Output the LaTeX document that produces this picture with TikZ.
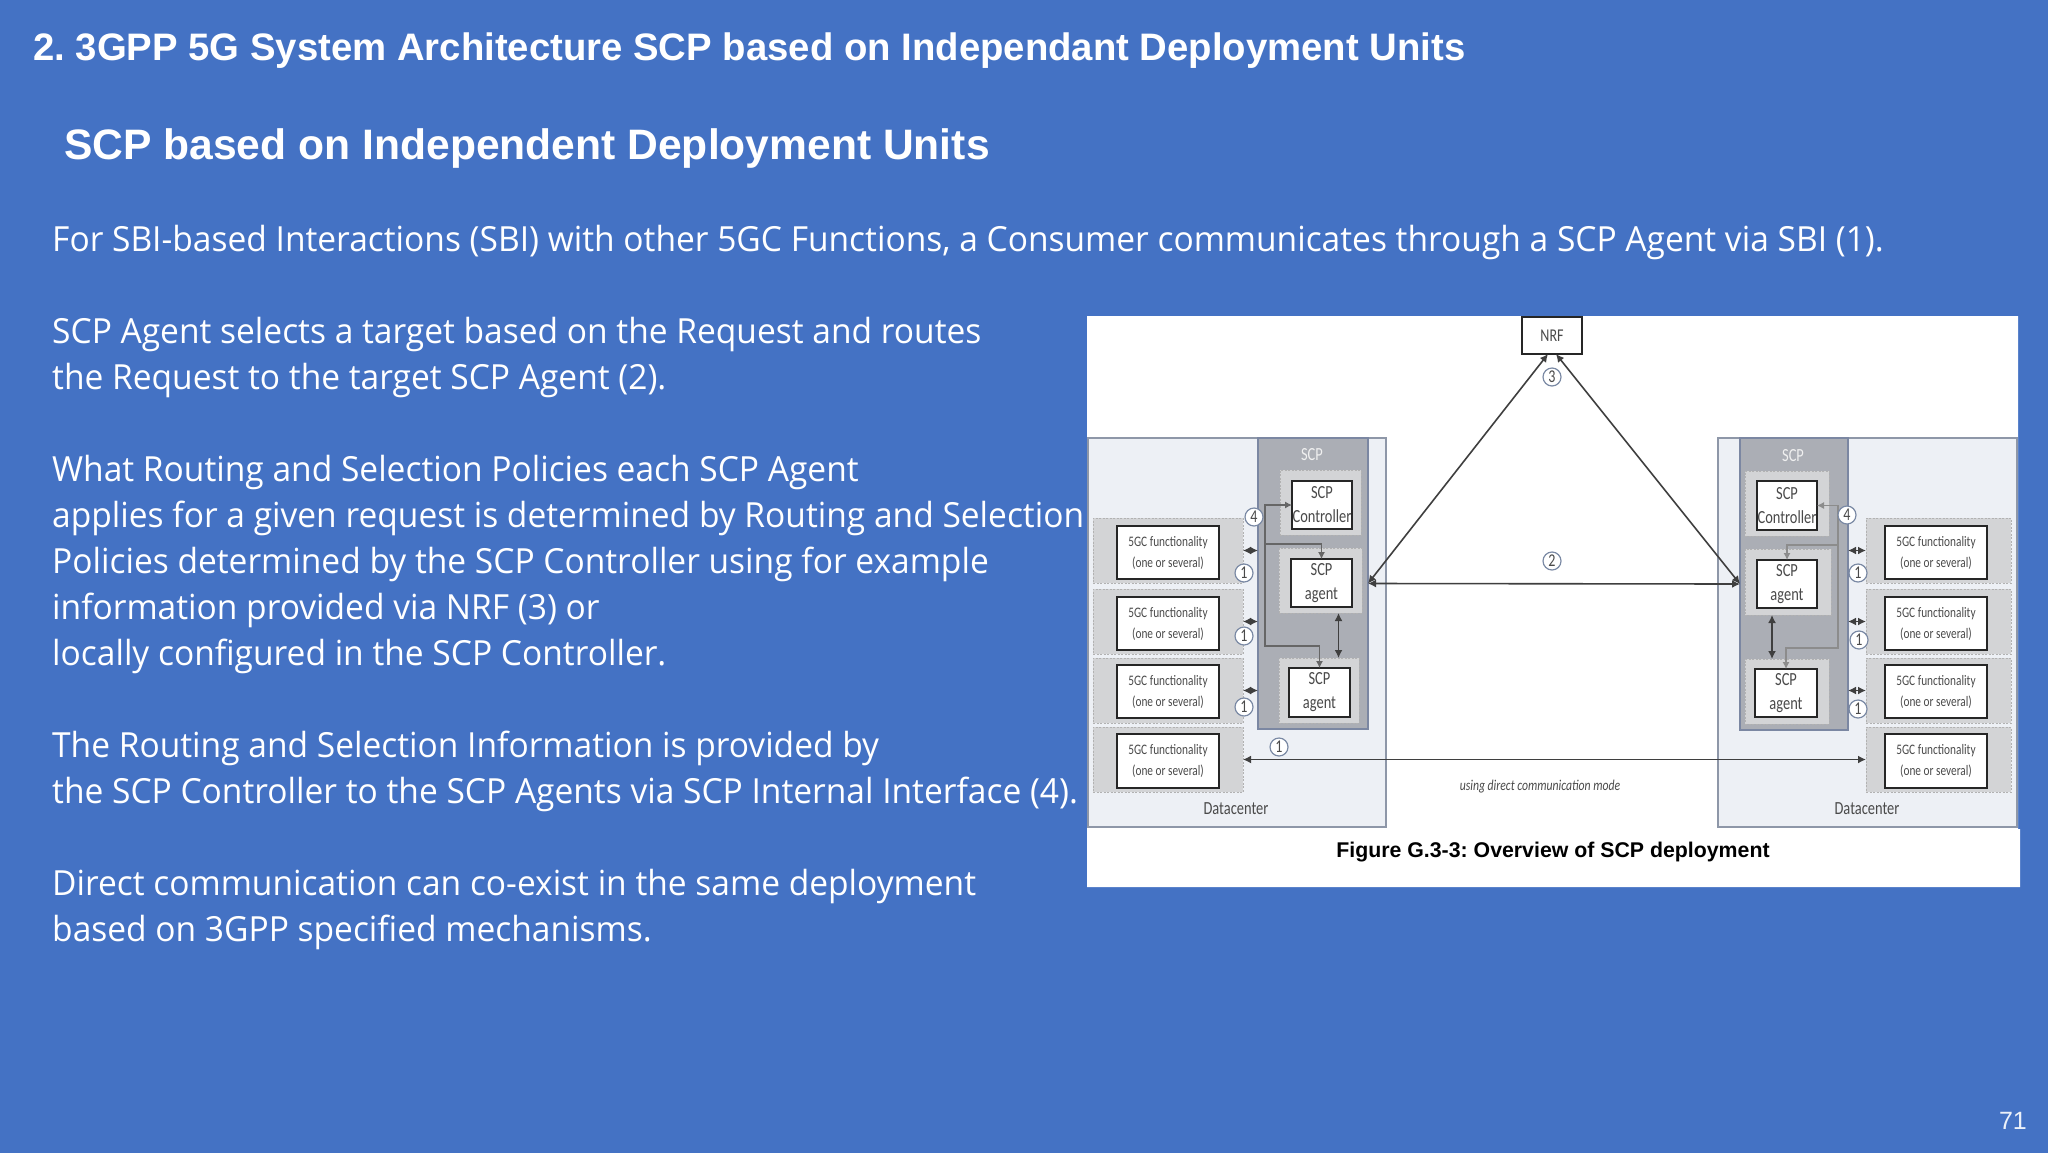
\documentclass[tikz,border=0pt]{standalone}
\usepackage{fontspec}
\usetikzlibrary{arrows.meta,calc}
\setmainfont[FakeStretch=0.969]{Open Sans}
\newfontfamily\headf{Liberation Sans}
\newfontfamily\figf[FakeStretch=0.78]{Carlito}
\frenchspacing
\definecolor{slidebg}{HTML}{4472C4}
\definecolor{dcfill}{HTML}{EDF0F5}
\definecolor{dcline}{HTML}{8E97A8}
\definecolor{scpfill}{HTML}{ABAEB5}
\definecolor{scpline}{HTML}{7B87A2}
\definecolor{outerfill}{HTML}{D3D4D6}
\definecolor{figtext}{HTML}{4A4A4A}
\definecolor{wire}{HTML}{3F3F3F}
\definecolor{ringline}{HTML}{7A89A4}
\newcommand{\rnode}[7]{%
  \pgfmathsetmacro\cxx{(#2+#4)/2}\pgfmathsetmacro\cyy{(#3+#5)/2}%
  \pgfmathsetmacro\wdd{#4-#2}\pgfmathsetmacro\htt{#5-#3}%
  \node[#6,minimum width=\wdd pt,minimum height=\htt pt,inner sep=0pt,outer sep=0pt] (#1) at (\cxx,\cyy) {#7};}
\tikzset{
  x=1pt,y=-1pt,
  title/.style={anchor=base west,text=white,font=\headf\bfseries\fontsize{38.3}{40}\selectfont,inner sep=0pt},
  subtitle/.style={anchor=base west,text=white,font=\headf\bfseries\fontsize{42.6}{46}\selectfont,inner sep=0pt},
  body/.style={anchor=base west,text=white,font=\fontsize{34.6}{40}\selectfont,inner sep=0pt},
  dc/.style={draw=dcline,fill=dcfill,line width=1.6pt},
  scp/.style={draw=scpline,fill=scpfill,line width=1.8pt},
  outer/.style={draw=gray!60,fill=outerfill,line width=0.8pt,dash pattern=on 2pt off 1.5pt},
  inner/.style={draw=black!85,fill=white,line width=2.4pt,text=figtext,align=center,font=\figf\fontsize{18.5}{24}\selectfont},
  fg/.style={draw=black!85,fill=white,line width=2.4pt,text=figtext,align=center,font=\figf\fontsize{14.5}{21}\selectfont},
  ring/.style={circle,draw=ringline,fill=white,line width=1.2pt,inner sep=0pt,minimum size=18pt,text=figtext,font=\figf\fontsize{18}{18}\selectfont},
  figlabel/.style={text=figtext,inner sep=0pt,font=\figf\fontsize{18.5}{20}\selectfont},
  scplabel/.style={text=white!88!gray,inner sep=0pt,font=\figf\fontsize{18.5}{20}\selectfont},
  wirel/.style={draw=wire,line width=1.6pt,{Latex[length=8pt,width=8pt]}-{Latex[length=8pt,width=8pt]}},
  bus/.style={draw=black!60,line width=1.1pt,{Latex[length=7pt,width=7pt]}-{Latex[length=7pt,width=7pt]}},
  busone/.style={draw=black!60,line width=1.1pt,-{Latex[length=7pt,width=7pt]}},
}
\begin{document}
\begin{tikzpicture}
\path[use as bounding box] (0,0) rectangle (2048,1152);
\fill[slidebg] (-6,-6) rectangle (2054,1158);
% texts
\node[title] (t1) at (33,60) {2. 3GPP 5G System Architecture SCP based on Independant Deployment Units};
\node[subtitle] (t2) at (64,159) {SCP based on Independent Deployment Units};
\node[body] (b1) at (52,251) {For SBI-based Interactions (SBI) with other 5GC Functions, a Consumer communicates through a SCP Agent via SBI (1).};
\node[body] (b2) at (52,343) {SCP Agent selects a target based on the Request and routes};
\node[body] (b3) at (52,389) {the Request to the target SCP Agent (2).};
\node[body] (b4) at (52,481) {What Routing and Selection Policies each SCP Agent};
\node[body] (b5) at (52,527) {applies for a given request is determined by Routing and Selection};
\node[body] (b6) at (52,573) {Policies determined by the SCP Controller using for example};
\node[body] (b7) at (52,619) {information provided via NRF (3) or};
\node[body] (b8) at (52,665) {locally configured in the SCP Controller.};
\node[body] (b9) at (52,757) {The Routing and Selection Information is provided by};
\node[body] (b10) at (52,803) {the SCP Controller to the SCP Agents via SCP Internal Interface (4).};
\node[body] (b11) at (52,895) {Direct communication can co-exist in the same deployment};
\node[body] (b12) at (52,941) {based on 3GPP specified mechanisms.};
\node[anchor=base east,text=white!90!slidebg,inner sep=0pt,font=\headf\fontsize{25}{28}\selectfont] (pg) at (2027,1129) {71};
% figure background
\fill[white] (1087,316) -- (2018,316) -- (2018,829) -- (2020,829) -- (2020,887) -- (1087,887) -- cycle;
% datacenters
\rnode{dcL}{1088}{438}{1386}{827}{dc}{}
\rnode{dcR}{1718}{438}{2017}{827}{dc}{}
% SCP
\rnode{scpL}{1258}{438}{1368}{729}{scp}{}
\rnode{scpR}{1740}{438}{1848}{730}{scp}{}
% SCP dashed
\rnode{coL}{1280}{470}{1361}{535}{outer}{}
\rnode{aoLa}{1279}{548}{1362}{613}{outer}{}
\rnode{aoLb}{1279}{658}{1359}{723}{outer}{}
\rnode{coR}{1745}{471}{1829}{536}{outer}{}
\rnode{aoRa}{1745}{549}{1831}{615}{outer}{}
\rnode{aoRb}{1745}{659}{1829}{724}{outer}{}
% 5GC dashed
\rnode{goLa}{1093}{518}{1243}{583}{outer}{}
\rnode{goLb}{1093}{589}{1243}{654}{outer}{}
\rnode{goLc}{1093}{658}{1243}{723}{outer}{}
\rnode{goLd}{1093}{727}{1243}{792}{outer}{}
\rnode{goRa}{1866}{518}{2011}{583}{outer}{}
\rnode{goRb}{1866}{589}{2011}{654}{outer}{}
\rnode{goRc}{1866}{658}{2011}{723}{outer}{}
\rnode{goRd}{1866}{727}{2011}{792}{outer}{}
% boxes
\rnode{ctlL}{1292}{481}{1352}{529}{inner}{SCP\\Controller}
\rnode{agLa}{1291}{559}{1352}{607}{inner}{SCP\\agent}
\rnode{agLb}{1289}{668}{1350}{717}{inner}{SCP\\agent}
\rnode{ctlR}{1757}{481}{1817}{530}{inner}{SCP\\Controller}
\rnode{agRa}{1757}{560}{1817}{608}{inner}{SCP\\agent}
\rnode{agRb}{1755}{669}{1817}{717}{inner}{SCP\\agent}
\rnode{gLa}{1117}{526}{1219}{579}{fg}{5GC functionality\\(one or several)}
\rnode{gLb}{1117}{597}{1219}{650}{fg}{5GC functionality\\(one or several)}
\rnode{gLc}{1117}{665}{1219}{718}{fg}{5GC functionality\\(one or several)}
\rnode{gLd}{1117}{734}{1219}{788}{fg}{5GC functionality\\(one or several)}
\rnode{gRa}{1885}{526}{1987}{579}{fg}{5GC functionality\\(one or several)}
\rnode{gRb}{1885}{597}{1987}{650}{fg}{5GC functionality\\(one or several)}
\rnode{gRc}{1885}{665}{1987}{718}{fg}{5GC functionality\\(one or several)}
\rnode{gRd}{1885}{734}{1987}{788}{fg}{5GC functionality\\(one or several)}
\rnode{nrf}{1522}{317}{1582}{354}{draw=black!85,fill=white,line width=2.2pt,text=figtext,font=\figf\fontsize{18}{18}\selectfont}{NRF}
% labels
\node[scplabel] (slL) at (1312,455) {SCP};
\node[scplabel] (slR) at (1793,456) {SCP};
\node[figlabel] (dlL) at (1236,809) {Datacenter};
\node[figlabel] (dlR) at (1867,809) {Datacenter};
\node[text=figtext,inner sep=0pt,font=\figf\itshape\fontsize{15}{16}\selectfont] (direct) at (1540,787) {using direct communication mode};
\node[text=black,inner sep=0pt,font=\headf\bfseries\fontsize{21.3}{24}\selectfont] (cap) at (1553,852) {Figure G.3-3: Overview of SCP deployment};
% internal buses
\coordinate (busL) at (1265,646);
\coordinate (brL) at (1265,544);
\draw[bus] (agLb.north) |- (busL) |- (ctlL.west);
\draw[busone] (brL) -| (agLa.north);
\coordinate (busR) at (1838,648);
\coordinate (brR) at (1838,545);
\draw[bus,draw=black!45] (agRb.north) |- (busR) |- (ctlR.east);
\draw[busone,draw=black!45] (brR) -| (agRa.north);
% agent-to-agent
\draw[wirel] ([xshift=18pt]aoLa.south) -- ([xshift=18pt]aoLa.south |- aoLb.north);
\draw[wirel] ([xshift=-16pt]aoRa.south) -- ([xshift=-16pt]aoRa.south |- aoRb.north);
% consumer to SCP
\draw[wirel] (goLa.east) -- (goLa.east -| scpL.west);
\draw[wirel] (goLb.east) -- (goLb.east -| scpL.west);
\draw[wirel] (goLc.east) -- (goLc.east -| scpL.west);
\draw[wirel] (goRa.west) -- (goRa.west -| scpR.east);
\draw[wirel] (goRb.west) -- (goRb.west -| scpR.east);
\draw[wirel] (goRc.west) -- (goRc.west -| scpR.east);
% long connectors
\draw[wirel] (goLd.east) -- (goRd.west);
\draw[wirel] (scpL.east) -- (scpR.west);
\draw[wirel] ([xshift=-4pt]nrf.south) -- (scpL.east);
\draw[wirel] ([xshift=4pt]nrf.south) -- (scpR.west);
% rings
\node[ring] (r4L) at (1254,517) {4};
\node[ring] (r1La) at (1244,573) {1};
\node[ring] (r1Lb) at (1244,636) {1};
\node[ring] (r1Lc) at (1244,707) {1};
\node[ring] (r1Ld) at (1279,747) {1};
\node[ring] (r4R) at (1847,515) {4};
\node[ring] (r1Ra) at (1858,573) {1};
\node[ring] (r1Rb) at (1859,640) {1};
\node[ring] (r1Rc) at (1858,709) {1};
\node[ring] (r3) at (1552,377) {3};
\node[ring] (r2) at (1552,561) {2};
\end{tikzpicture}
\end{document}
